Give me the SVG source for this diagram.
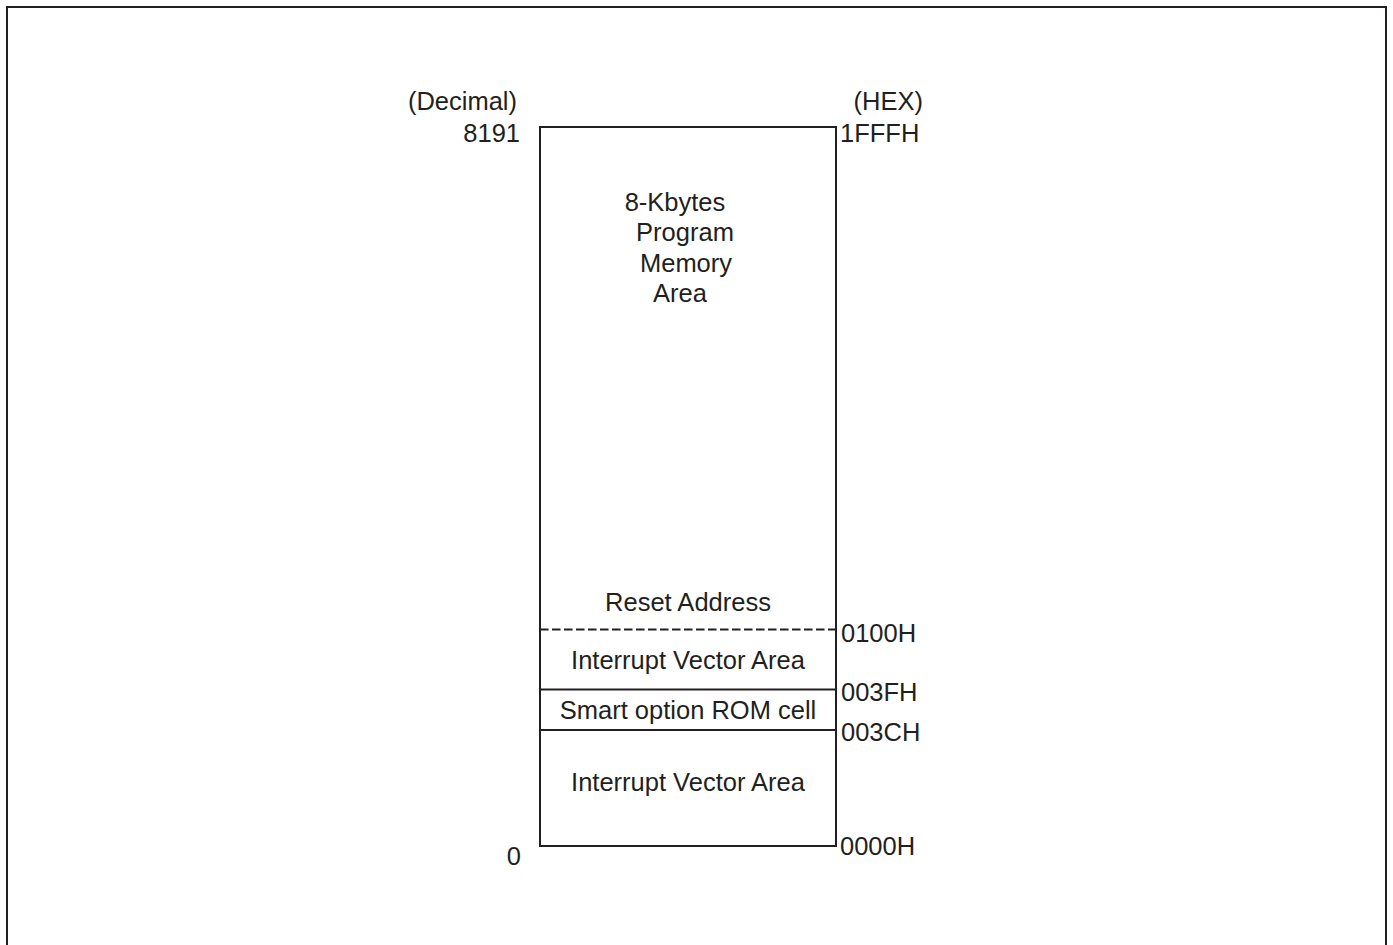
<svg xmlns="http://www.w3.org/2000/svg" width="1393" height="945" viewBox="0 0 1393 945">
<style>
text{font-family:"Liberation Sans",Arial,sans-serif;font-size:25.5px;fill:#231f20}
.m{text-anchor:middle}
.r{text-anchor:end}
.ln{stroke:#231f20;stroke-width:2;fill:none}
</style>
<rect width="1393" height="945" fill="#fff"/>
<g id="frame"><path class="ln" d="M7,945 V7 H1386 V945" stroke-width="2.5"/></g>
<g id="memory-box">
<rect class="ln" x="540" y="127" width="296" height="719"/>
</g>
<g id="connectors">
<line class="ln" x1="540" y1="629.5" x2="836" y2="629.5" stroke-dasharray="8.5 3.5" stroke-width="2.5"/>
<line class="ln" x1="540" y1="689.5" x2="836" y2="689.5"/>
<line class="ln" x1="540" y1="730" x2="836" y2="730"/>
</g>
<g id="labels-left">
<text class="r" x="517" y="110">(Decimal)</text>
<text class="r" x="520" y="142">8191</text>
<text class="r" x="521" y="865">0</text>
</g>
<g id="labels-right">
<text class="r" x="923" y="110">(HEX)</text>
<text x="840" y="142">1FFFH</text>
<text x="841" y="642">0100H</text>
<text x="841" y="701">003FH</text>
<text x="841" y="741">003CH</text>
<text x="840" y="855">0000H</text>
</g>
<g id="program-area">
<text class="m" x="675" y="211">8-Kbytes</text>
<text class="m" x="685" y="241">Program</text>
<text class="m" x="686" y="272">Memory</text>
<text class="m" x="680" y="302">Area</text>
</g>
<g id="reset"><text class="m" x="688" y="611">Reset Address</text></g>
<g id="ivec-upper"><text class="m" x="688" y="669">Interrupt Vector Area</text></g>
<g id="smart-option"><text class="m" x="688" y="719">Smart option ROM cell</text></g>
<g id="ivec-lower"><text class="m" x="688" y="791">Interrupt Vector Area</text></g>
</svg>
